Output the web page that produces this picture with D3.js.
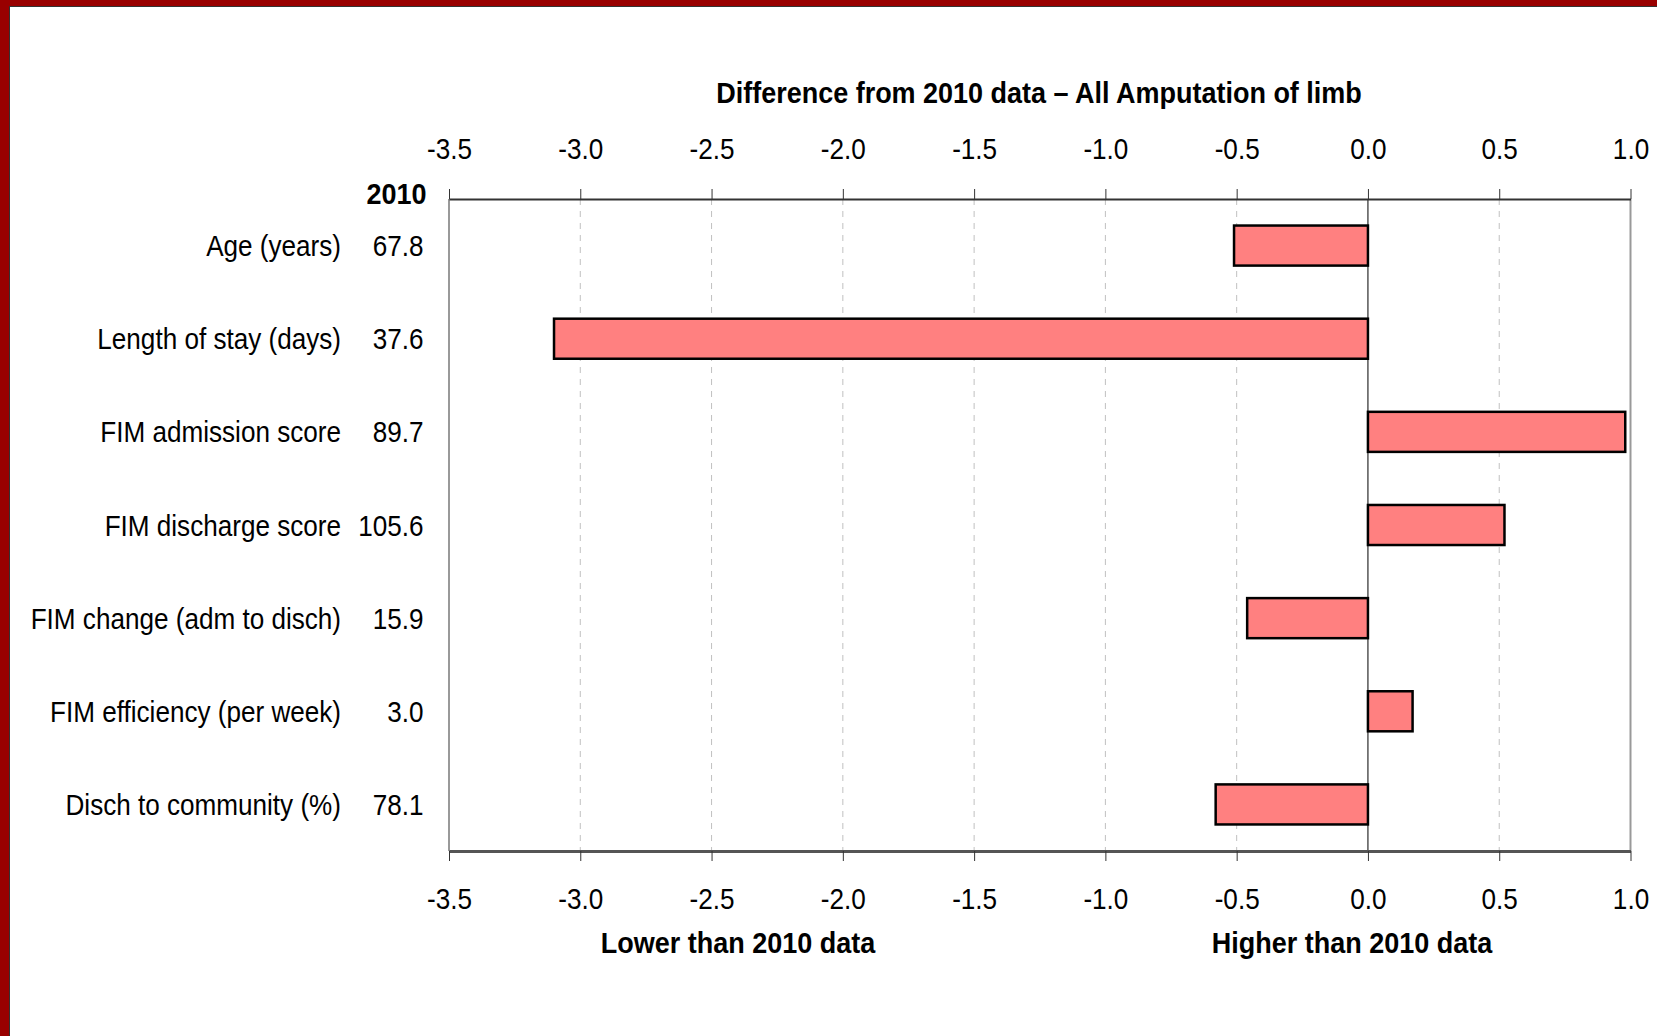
<!DOCTYPE html>
<html>
<head>
<meta charset="utf-8">
<script src="https://cdn.jsdelivr.net/npm/d3@7"></script>
<style>
  html, body { margin: 0; padding: 0; background: #fff; }
  svg { display: block; }
  text { font-family: "Liberation Sans", Arial, sans-serif; fill: #000; }
</style>
</head>
<body>
<svg id="chart" width="1657" height="1036"></svg>
<script>
const categories = ["Age (years)", "Length of stay (days)", "FIM admission score", "FIM discharge score", "FIM change (adm to disch)", "FIM efficiency (per week)", "Disch to community (%)"];
const baseline2010 = ["67.8", "37.6", "89.7", "105.6", "15.9", "3.0", "78.1"];
const differences = [-0.51, -3.10, 0.98, 0.52, -0.46, 0.17, -0.58];
const tickValues = [-3.5, -3.0, -2.5, -2.0, -1.5, -1.0, -0.5, 0.0, 0.5, 1.0];
const titleText = "Difference from 2010 data \u2013 All Amputation of limb";
const baselineHeader = "2010";
const lowerLabel = "Lower than 2010 data";
const higherLabel = "Higher than 2010 data";

(function () {
const W = 1657, H = 1036;
const FS = 30;
const NARROW = 0.87;
const NARROW_B = 0.9;
const svg = d3.select("#chart");

function label(x, y, str, anchor, bold) {
  return svg.append("text")
    .attr("transform", `translate(${x},${y}) scale(${bold ? NARROW_B : NARROW},1)`)
    .attr("text-anchor", anchor)
    .attr("font-size", FS)
    .attr("font-weight", bold ? "bold" : "normal")
    .text(str);
}

svg.append("rect").attr("x", 0).attr("y", 0).attr("width", W).attr("height", H).attr("fill", "#fff");
svg.append("rect").attr("x", 0).attr("y", 0).attr("width", W).attr("height", 6).attr("fill", "#990000");
svg.append("rect").attr("x", 0).attr("y", 0).attr("width", 9).attr("height", H).attr("fill", "#990000");
svg.append("line").attr("x1", 9).attr("x2", W).attr("y1", 6.5).attr("y2", 6.5).attr("stroke", "#333").attr("stroke-width", 1);
svg.append("line").attr("x1", 9.5).attr("x2", 9.5).attr("y1", 6).attr("y2", H).attr("stroke", "#333").attr("stroke-width", 1);

const pLeft = 449, pRight = 1630.5, pTop = 199, pBottom = 851;

const x = d3.scaleLinear().domain([-3.5, 1.0]).range([pLeft, pRight]);
const y = d3.scaleBand().domain(categories).range([pTop, pBottom]).paddingInner(0.57).paddingOuter(0.285);

const g = svg.append("g");

g.selectAll("line.grid").data(tickValues.filter(v => v !== 0 && v !== -3.5 && v !== 1.0)).enter()
  .append("line").attr("class", "grid")
  .attr("x1", d => x(d)).attr("x2", d => x(d))
  .attr("y1", pTop).attr("y2", pBottom)
  .attr("stroke", "#c0c0c0").attr("stroke-width", 1).attr("stroke-dasharray", "6,6");

g.append("line").attr("x1", pLeft).attr("x2", pLeft).attr("y1", pTop).attr("y2", pBottom).attr("stroke", "#999").attr("stroke-width", 2);
g.append("line").attr("x1", pRight).attr("x2", pRight).attr("y1", pTop).attr("y2", pBottom).attr("stroke", "#999").attr("stroke-width", 2);

g.selectAll("rect.bar").data(differences).enter().append("rect").attr("class", "bar")
  .attr("x", d => x(Math.min(0, d)))
  .attr("width", d => Math.abs(x(d) - x(0)))
  .attr("y", (d, i) => y(categories[i]))
  .attr("height", y.bandwidth())
  .attr("fill", "#ff8080").attr("stroke", "#000").attr("stroke-width", 2.5);

g.append("line").attr("x1", x(0)).attr("x2", x(0)).attr("y1", pTop).attr("y2", pBottom).attr("stroke", "#000").attr("stroke-width", 1);

const fmt = d3.format(".1f");
const fmtTick = v => fmt(v).replace("\u2212", "-");
const topAxis = d3.axisTop(x).tickValues(tickValues).tickFormat(fmtTick).tickSize(10).tickPadding(30).tickSizeOuter(0);
const botAxis = d3.axisBottom(x).tickValues(tickValues).tickFormat(fmtTick).tickSize(10).tickPadding(27).tickSizeOuter(0);

const ta = svg.append("g").attr("transform", `translate(0,${pTop})`).call(topAxis);
const ba = svg.append("g").attr("transform", `translate(0,${pBottom})`).call(botAxis);
[ta, ba].forEach(a => {
  a.attr("font-family", null).attr("font-size", null);
  a.select(".domain").attr("stroke", "#333").attr("stroke-width", 2);
  a.selectAll(".tick line").attr("stroke", "#333").attr("stroke-width", 1);
  a.selectAll(".tick text").attr("font-size", FS).attr("fill", "#000")
    .attr("transform", `scale(${NARROW},1)`);
});
ta.selectAll(".tick text").attr("dy", "0em");
ba.selectAll(".tick text").attr("dy", "0.7em");
ba.select(".domain").attr("stroke", "#555").attr("stroke-width", 3);

categories.forEach((c, i) => {
  const cy = y(c) + y.bandwidth() / 2 + 10.5;
  label(341, cy, c, "end", false);
  label(423.5, cy, baseline2010[i], "end", false);
});

label(426.5, 204, baselineHeader, "end", true);
label(1039, 103, titleText, "middle", true);
label(738, 953, lowerLabel, "middle", true);
label(1352, 953, higherLabel, "middle", true);
})();
</script>
</body>
</html>
